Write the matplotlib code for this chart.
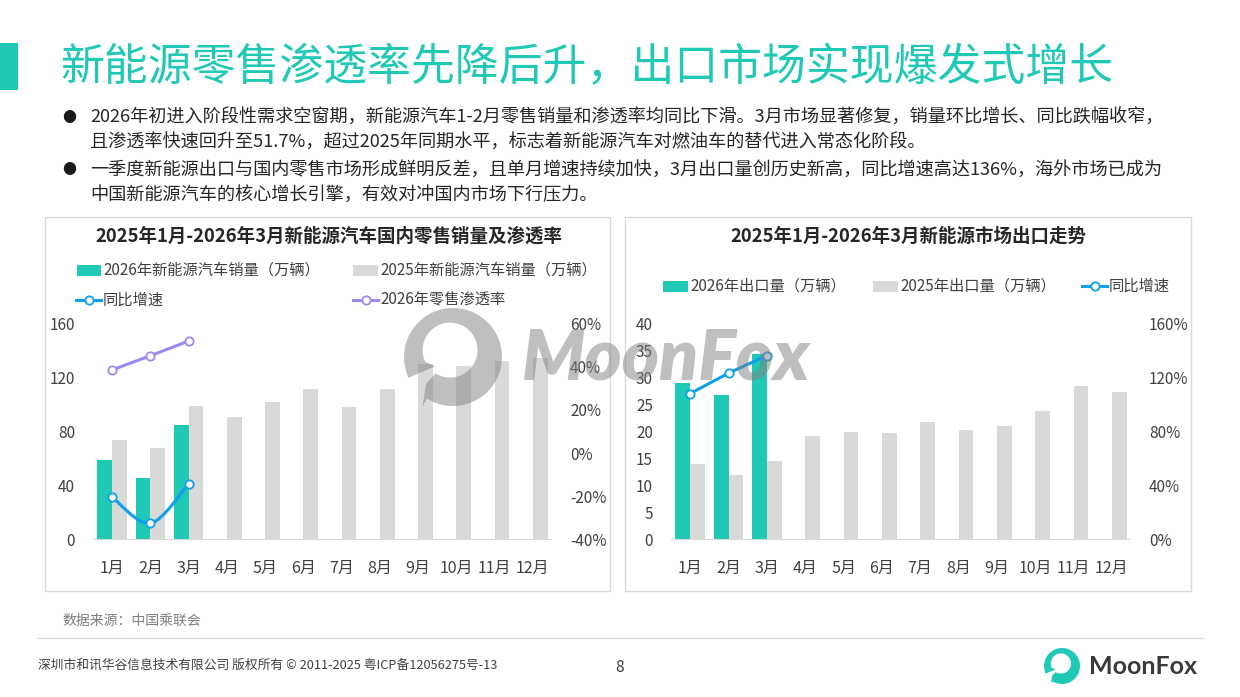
import matplotlib
matplotlib.use('Agg')
import matplotlib.pyplot as plt
from matplotlib.patches import Rectangle, Polygon, PathPatch
from matplotlib.lines import Line2D
from matplotlib.path import Path
from matplotlib.transforms import Affine2D
from matplotlib.ticker import FuncFormatter, MultipleLocator
import numpy as np

plt.rcParams['font.family'] = ['Noto Sans CJK SC', 'DejaVu Sans']

# ---------------- data ----------------
months = ['1月', '2月', '3月', '4月', '5月', '6月', '7月', '8月', '9月', '10月', '11月', '12月']
retail_2026 = [59, 46, 85]
retail_2025 = [74, 68, 99, 91, 102, 111, 98, 111, 130, 128, 132, 134]
retail_yoy = [-20.2, -32.3, -14.1]          # %
penetration_2026 = [38.4, 44.9, 51.7]       # %
export_2026 = [28.9, 26.7, 34.2]
export_2025 = [14.0, 12.0, 14.5, 19.1, 19.9, 19.7, 21.7, 20.2, 21.1, 23.7, 28.3, 27.2]
export_yoy = [108, 123, 136]                # %

title = '新能源零售渗透率先降后升，出口市场实现爆发式增长'
bullets = [
    ['2026年初进入阶段性需求空窗期，新能源汽车1-2月零售销量和渗透率均同比下滑。3月市场显著修复，销量环比增长、同比跌幅收窄，',
     '且渗透率快速回升至51.7%，超过2025年同期水平，标志着新能源汽车对燃油车的替代进入常态化阶段。'],
    ['一季度新能源出口与国内零售市场形成鲜明反差，且单月增速持续加快，3月出口量创历史新高，同比增速高达136%，海外市场已成为',
     '中国新能源汽车的核心增长引擎，有效对冲国内市场下行压力。'],
]
left_title = '2025年1月-2026年3月新能源汽车国内零售销量及渗透率'
right_title = '2025年1月-2026年3月新能源市场出口走势'
left_legend = ['2026年新能源汽车销量（万辆）', '2025年新能源汽车销量（万辆）', '同比增速', '2026年零售渗透率']
right_legend = ['2026年出口量（万辆）', '2025年出口量（万辆）', '同比增速']

# ---------------- style ----------------
TEAL = '#20C9B6'
GRAY = '#D9D9D9'
BLUE = '#0EA0EA'
PURPLE = '#9B88F0'
TXT = '#404040'

W, H = 1240, 697
fig = plt.figure(figsize=(W / 100, H / 100), dpi=100)
PX = Affine2D().scale(1 / W, 1 / H) + fig.transFigure   # pixel coords, y up


def fx(x):
    return x / W


def fy(y):
    return 1 - y / H


def frect(x0, y0, x1, y1):
    return [fx(x0), fy(y1), (x1 - x0) / W, (y1 - y0) / H]


# header
fig.add_artist(Rectangle((fx(0), fy(90)), fx(18), (90 - 43) / H, transform=fig.transFigure,
                         facecolor=TEAL, edgecolor='none'))
fig.text(fx(60), fy(67), title, fontsize=31.6, color=TEAL, va='center', ha='left', fontweight='medium')

ys = [[118, 143], [170, 196]]
for blk, yy in zip(bullets, ys):
    fig.text(fx(62), fy(yy[0]), '●', fontsize=10, color='#1a1a1a', va='center', ha='left')
    for line, y in zip(blk, yy):
        fig.text(fx(90), fy(y), line, fontsize=13.1, color='#262626', va='center', ha='left')

# panel boxes
for x0, x1 in [(45, 610), (625, 1191)]:
    fig.add_artist(Rectangle((fx(x0), fy(591)), (x1 - x0) / W, (591 - 217) / H,
                             transform=fig.transFigure, facecolor='none', edgecolor='#D9D9D9', lw=1))

fig.text(fx(329), fy(236), left_title, fontsize=13.3, fontweight='bold', color='#262626', ha='center', va='center')
fig.text(fx(908), fy(236), right_title, fontsize=13.3, fontweight='bold', color='#262626', ha='center', va='center')


def legend_patch(x0, x1, y, color, label):
    fig.add_artist(Rectangle((fx(x0), fy(y + 5.5)), (x1 - x0) / W, 11 / H, transform=fig.transFigure,
                             facecolor=color, edgecolor='none'))
    fig.text(fx(x1 + 2), fy(y), label, fontsize=11, color=TXT, va='center', ha='left')


def legend_line(x0, x1, y, color, label):
    fig.add_artist(Line2D([fx(x0), fx(x1)], [fy(y), fy(y)], transform=fig.transFigure, color=color, lw=2.2))
    fig.add_artist(Line2D([fx((x0 + x1) / 2)], [fy(y)], transform=fig.transFigure, marker='o', ms=6,
                          mfc='white', mec=color, mew=1.3, ls='none'))
    fig.text(fx(x1 + 2), fy(y), label, fontsize=11, color=TXT, va='center', ha='left')


legend_patch(77, 101, 270, TEAL, left_legend[0])
legend_patch(353, 378, 270, GRAY, left_legend[1])
legend_line(76, 101, 300, BLUE, left_legend[2])
legend_line(353, 378, 300, PURPLE, left_legend[3])

legend_patch(663, 688, 286, TEAL, right_legend[0])
legend_patch(873, 898, 286, GRAY, right_legend[1])
legend_line(1082, 1107, 286, BLUE, right_legend[2])


def smooth_path(xs, ys_):
    pts = list(zip(xs, ys_))
    verts = [pts[0]]
    codes = [Path.MOVETO]
    n = len(pts)
    for i in range(n - 1):
        p0 = pts[i - 1] if i > 0 else pts[i]
        p1 = pts[i]
        p2 = pts[i + 1]
        p3 = pts[i + 2] if i + 2 < n else pts[i + 1]
        c1 = (p1[0] + (p2[0] - p0[0]) / 6, p1[1] + (p2[1] - p0[1]) / 6)
        c2 = (p2[0] - (p3[0] - p1[0]) / 6, p2[1] - (p3[1] - p1[1]) / 6)
        verts += [c1, c2, p2]
        codes += [Path.CURVE4] * 3
    return Path(verts, codes)


def style_axes(ax):
    for s in ax.spines.values():
        s.set_visible(False)
    ax.tick_params(length=0, labelsize=11, colors='#404040')


def make_chart(x0, x1, b2026, b2025, ylim, ystep, rlim, rstep, lines):
    ax = fig.add_axes(frect(x0, 323, x1, 540))
    x = np.arange(len(months))
    w = 0.385
    ax.bar(x + w / 2, b2025, w, color=GRAY, zorder=2)
    ax.bar(x[:len(b2026)] - w / 2, b2026, w, color=TEAL, zorder=2)
    ax.set_xlim(-0.5, len(months) - 0.5)
    ax.set_ylim(*ylim)
    ax.yaxis.set_major_locator(MultipleLocator(ystep))
    ax.axhline(0, color=GRAY, lw=1.5, zorder=3)
    ax.set_xticks(x)
    ax.set_xticklabels(months)
    style_axes(ax)
    ax.tick_params(axis='x', pad=14, labelsize=11.5)
    ax.tick_params(axis='y', pad=13)
    ax2 = ax.twinx()
    ax2.set_ylim(*rlim)
    ax2.yaxis.set_major_locator(MultipleLocator(rstep))
    ax2.yaxis.set_major_formatter(FuncFormatter(lambda v, p: f'{v:.0f}%'))
    style_axes(ax2)
    ax2.tick_params(axis='y', pad=13)
    for vals, color, sm in lines:
        xs = x[:len(vals)]
        if sm:
            ax2.add_patch(PathPatch(smooth_path(xs, vals), facecolor='none', edgecolor=color, lw=2.2, zorder=4))
        else:
            ax2.plot(xs, vals, color=color, lw=2.2, zorder=4)
        ax2.plot(xs, vals, ls='none', marker='o', ms=6, mfc='white', mec=color, mew=1.3, zorder=5)
    return ax, ax2


make_chart(93, 552, retail_2026, retail_2025, (0, 160), 40, (-40, 60), 20,
           [(penetration_2026, PURPLE, False), (retail_yoy, BLUE, True)])
make_chart(671, 1131, export_2026, export_2025, (0, 40), 5, (0, 160), 40,
           [(export_yoy, BLUE, False)])


# logo shape (crescent ring opening at lower-left with a small tail), in image pixel coords
def logo_polygon(cx, cy, R, **kw):
    a0, a1 = np.deg2rad(238), np.deg2rad(205 + 360)
    t = np.linspace(a0, a1, 120)
    outer = np.c_[cx + R * np.cos(t), (H - cy) + R * np.sin(t)]
    icx, icy, r = cx - 0.06 * R, (H - cy) + 0.14 * R, 0.56 * R
    t2 = t[::-1]
    inner = np.c_[icx + r * np.cos(t2), icy + r * np.sin(t2)]
    tail = np.array([[cx - 0.55 * R, (H - cy) - 0.55 * R],
                     [cx - 0.62 * R, (H - cy) - 1.0 * R]])
    pts = np.vstack([outer, [[icx + r * np.cos(a1) * 0.6, icy + r * np.sin(a1) * 1.4]], inner, tail])
    return Polygon(pts, closed=True, transform=PX, **kw)


# watermark
WM = '#808080'
fig.add_artist(logo_polygon(453, 357, 49, facecolor=WM, edgecolor='none', alpha=0.5, zorder=20))
fig.text(fx(522), fy(358), 'MoonFox', fontsize=51, fontweight='heavy', style='italic', family='Lato', color=WM,
         alpha=0.5, va='center', ha='left', zorder=20)

# footer
fig.text(fx(62), fy(621), '数据来源：中国乘联会', fontsize=10, color='#7F7F7F', va='center', ha='left', style='italic')
fig.add_artist(Line2D([fx(38), fx(1203)], [fy(638), fy(638)], transform=fig.transFigure, color='#D9D9D9', lw=1))
fig.text(fx(38), fy(665), '深圳市和讯华谷信息技术有限公司 版权所有 © 2011-2025 粤ICP备12056275号-13',
         fontsize=9.2, color='#404040', va='center', ha='left')
fig.text(fx(620), fy(667), '8', fontsize=11, color='#404040', va='center', ha='center')
fig.add_artist(logo_polygon(1062, 666, 18, facecolor=TEAL, edgecolor='none'))
fig.text(fx(1089), fy(667), 'MoonFox', fontsize=18, fontweight='bold', family='Lato', color='#3a3a3a',
         va='center', ha='left')

fig.savefig('out.png', dpi=100)
